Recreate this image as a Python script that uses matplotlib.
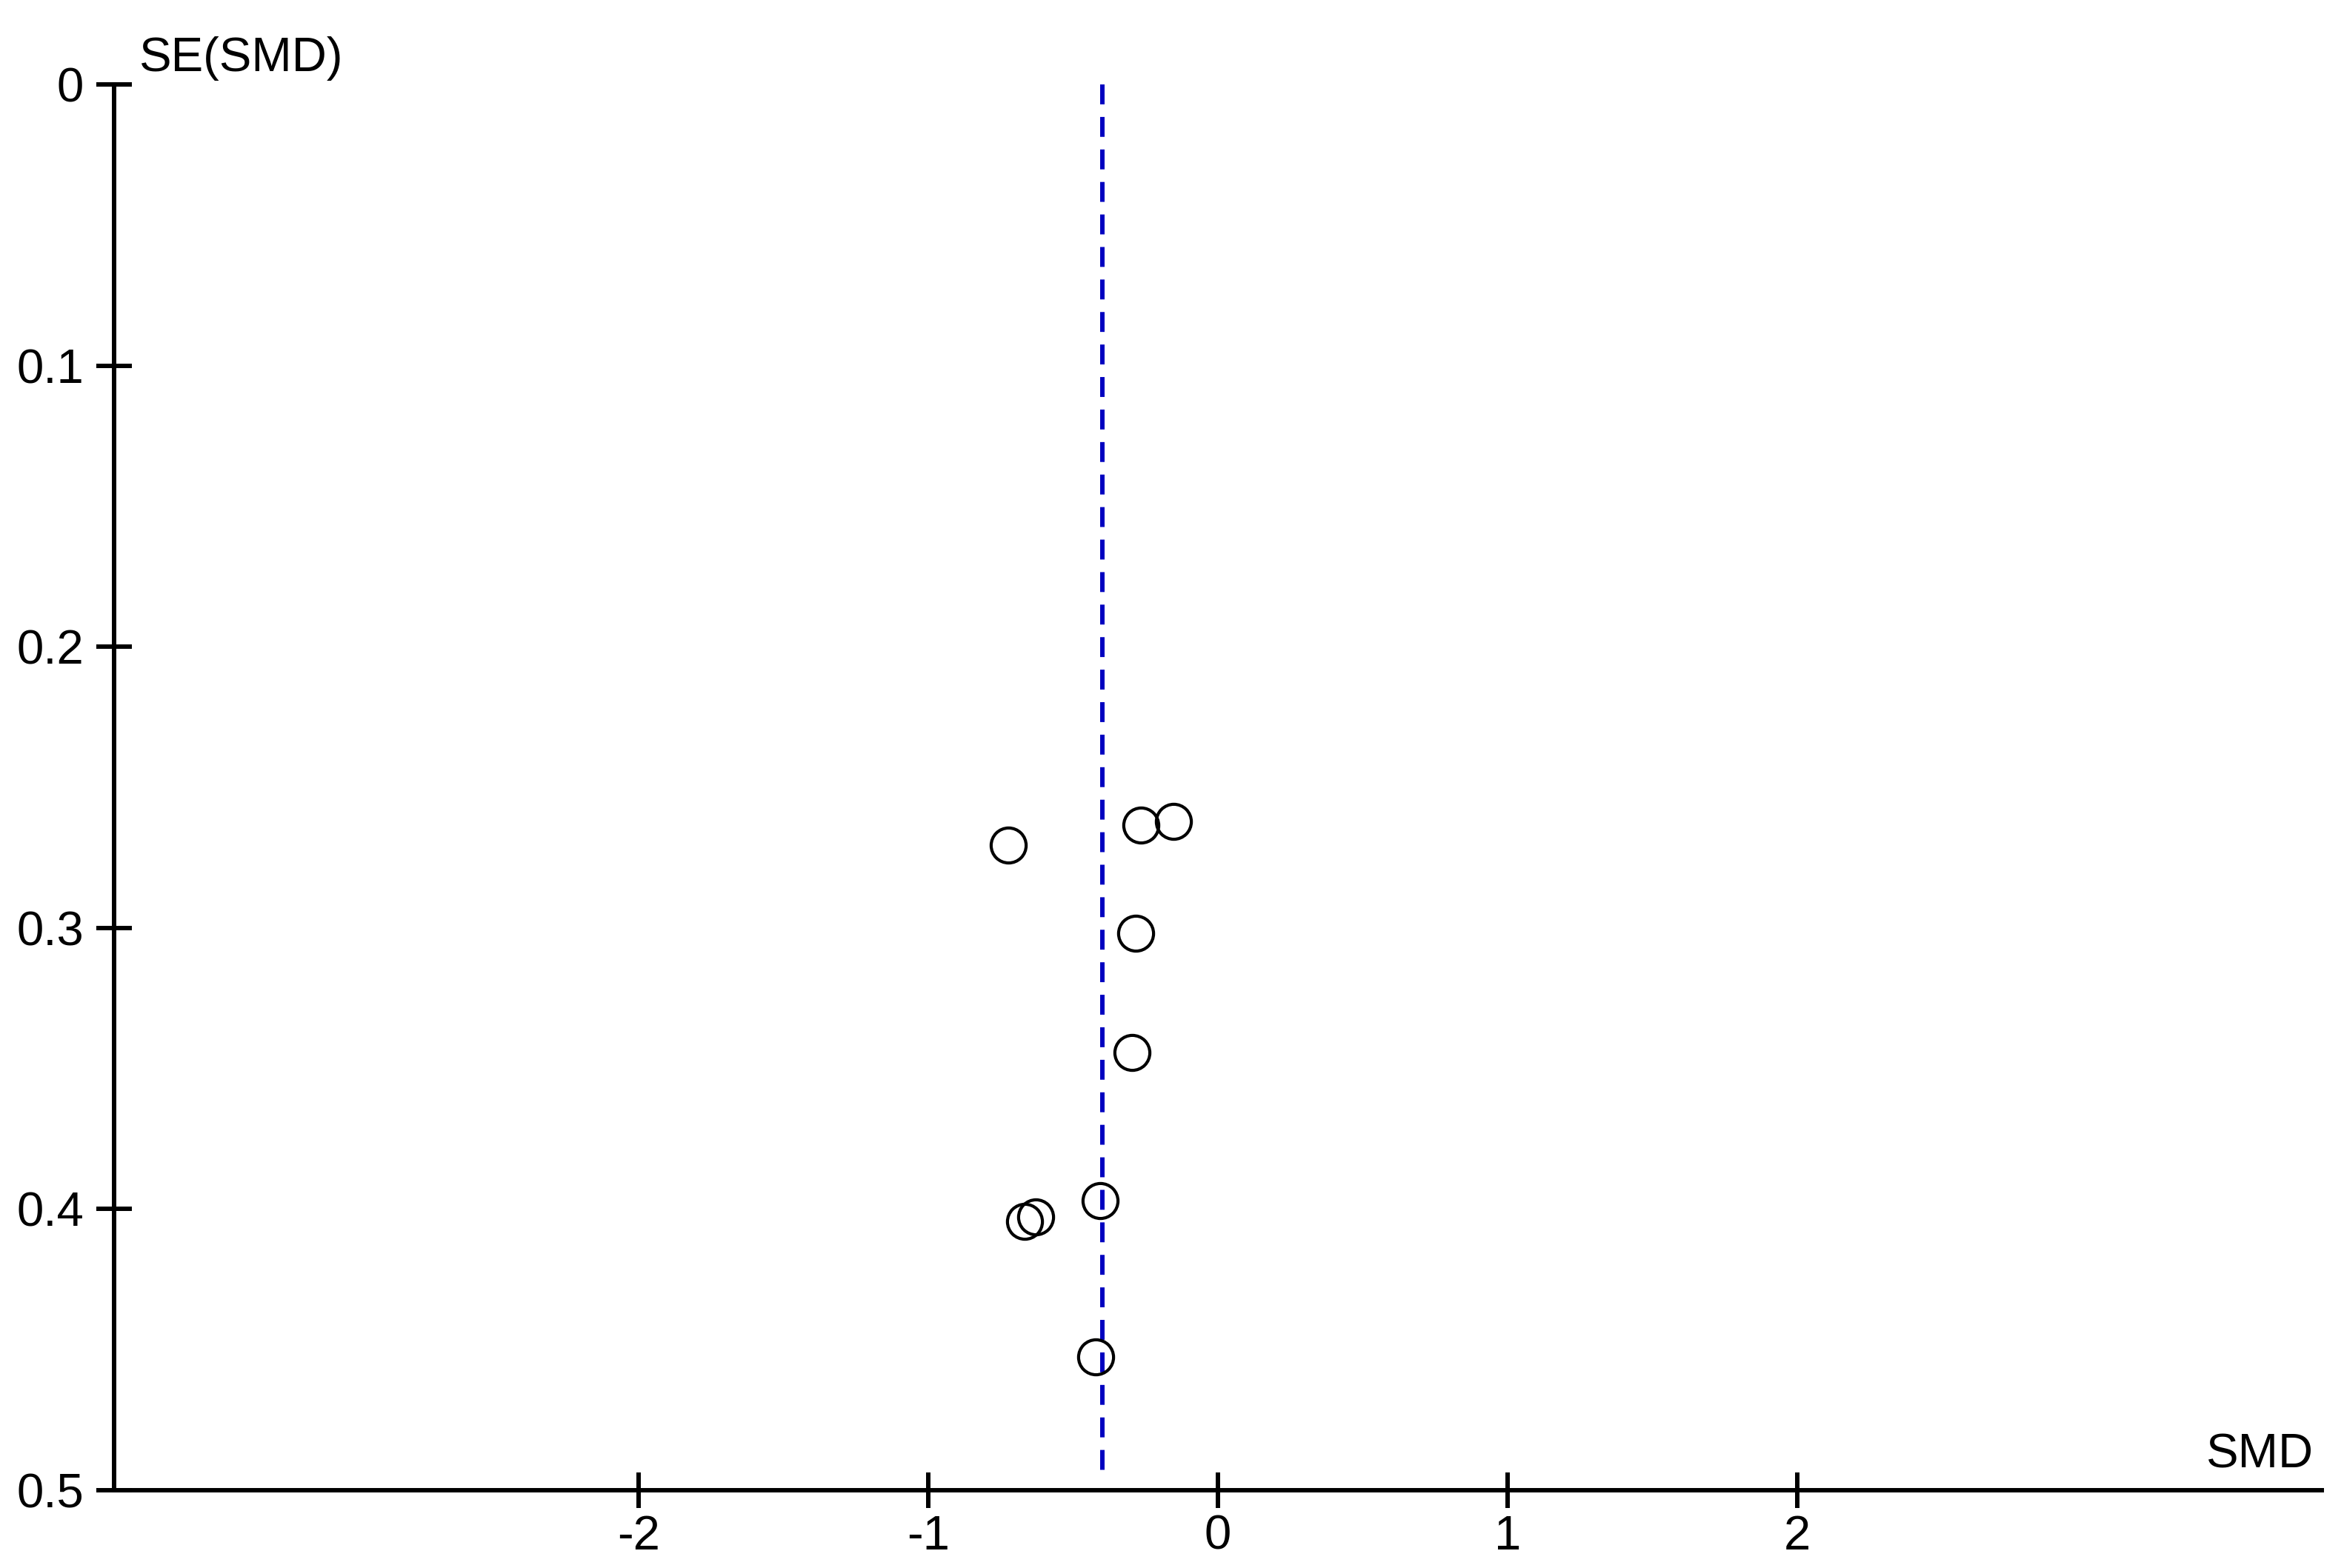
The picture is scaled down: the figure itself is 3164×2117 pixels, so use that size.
import matplotlib
matplotlib.use('Agg')
import matplotlib.pyplot as plt

# study effect sizes (SMD) and their standard errors
smd = [-0.724, -0.266, -0.153, -0.284, -0.297, -0.407, -0.668, -0.629, -0.422]
se = [0.2705, 0.2634, 0.2621, 0.3019, 0.3443, 0.3970, 0.4044, 0.4028, 0.4526]
pooled = -0.40
pooled_se_range = [0.0, 0.495]

xticks = [-2, -1, 0, 1, 2]
yticks = [0, 0.1, 0.2, 0.3, 0.4, 0.5]
ytick_labels = ['0', '0.1', '0.2', '0.3', '0.4', '0.5']

plt.rcParams['font.family'] = ['Liberation Sans', 'DejaVu Sans']
plt.rcParams['axes.unicode_minus'] = False

fig = plt.figure(figsize=(31.64, 21.17), dpi=100)
ax = fig.add_axes([154 / 3164, 1 - 2012 / 2117, (3134 - 154) / 3164, (2012 - 114) / 2117])

# pooled estimate line
ax.plot([pooled, pooled], pooled_se_range, color='#0000C0', linewidth=4.3,
        dashes=(4.5, 2.85), zorder=2)

ax.plot(smd, se, linestyle='none', marker='o', markersize=34,
        markerfacecolor='none', markeredgecolor='black', markeredgewidth=3.0, zorder=3)

ax.set_xlim(-3.81, 3.81)
ax.set_ylim(0.5, 0)
ax.set_xticks(xticks)
ax.set_yticks(yticks)
ax.set_yticklabels(ytick_labels)

for side in ['top', 'right']:
    ax.spines[side].set_visible(False)
for side in ['left', 'bottom']:
    ax.spines[side].set_linewidth(4.3)

ax.tick_params(axis='both', direction='inout', length=35, width=4.3, labelsize=47)
ax.tick_params(axis='y', pad=12)
ax.tick_params(axis='x', pad=6)

fig.text(188 / 3164, 1 - 96 / 2117, 'SE(SMD)', fontsize=47, ha='left', va='baseline')
fig.text(3123 / 3164, 1 - 1982 / 2117, 'SMD', fontsize=47, ha='right', va='baseline')

fig.savefig('out.png', dpi=100, facecolor='white')
